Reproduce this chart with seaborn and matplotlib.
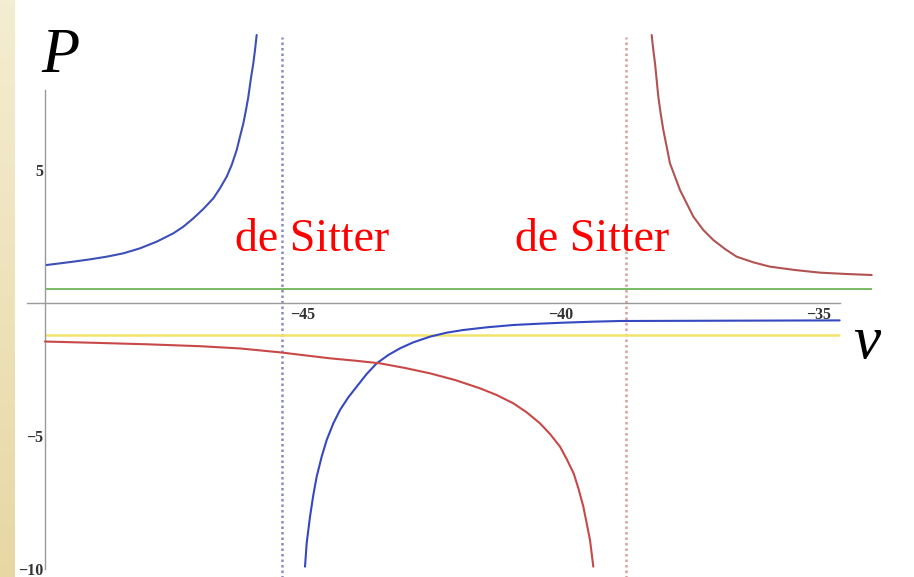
import numpy as np
import matplotlib
matplotlib.use("Agg")
import matplotlib.pyplot as plt
import seaborn as sns

# ---- curve samples (nu, P) ----
blue_upper_nu = [-49.968, -49.709, -49.451, -49.128, -48.805, -48.482, -48.159, -47.836,
                 -47.513, -47.319, -47.125, -46.932, -46.738, -46.609, -46.479, -46.382,
                 -46.285, -46.221, -46.156, -46.105, -46.059, -46.014, -45.963, -45.930,
                 -45.898]
blue_upper_p = [1.417, 1.480, 1.543, 1.630, 1.730, 1.856, 2.044, 2.294,
                2.608, 2.858, 3.172, 3.523, 3.924, 4.300, 4.738, 5.177,
                5.741, 6.242, 6.743, 7.244, 7.746, 8.372, 8.999, 9.500,
                10.064]

blue_lower_nu = [-44.961, -44.929, -44.864, -44.800, -44.735, -44.638, -44.541, -44.412,
                 -44.283, -44.122, -43.960, -43.766, -43.572, -43.346, -43.120, -42.862,
                 -42.539, -42.216, -41.893, -41.441, -40.924, -40.407, -39.955, -39.374,
                 -38.857, -36.5, -34.6]
blue_lower_p = [-9.924, -9.046, -8.044, -7.229, -6.540, -5.788, -5.162, -4.535,
                -4.034, -3.558, -3.157, -2.680, -2.279, -1.966, -1.715, -1.490,
                -1.277, -1.127, -1.026, -0.926, -0.838, -0.788, -0.751, -0.713,
                -0.688, -0.675, -0.665]

red_lower_nu = [-50.0, -49.0, -48.0, -47.0, -46.22, -45.446, -44.961, -44.477,
                -43.992, -43.508, -43.023, -42.539, -42.054, -41.570, -41.247, -40.924,
                -40.665, -40.407, -40.213, -40.019, -39.890, -39.755, -39.663, -39.567,
                -39.502, -39.438, -39.374]
red_lower_p = [-1.46, -1.51, -1.565, -1.635, -1.72, -1.866, -1.979, -2.091,
               -2.179, -2.279, -2.455, -2.655, -2.906, -3.219, -3.470, -3.783,
               -4.121, -4.535, -4.936, -5.412, -5.876, -6.415, -6.979, -7.668,
               -8.294, -8.921, -9.924]

red_upper_nu = [-38.243, -38.211, -38.178, -38.146, -38.114, -38.069, -38.017, -37.952,
                -37.888, -37.791, -37.694, -37.565, -37.435, -37.242, -37.048, -36.822,
                -36.596, -36.273, -35.950, -35.465, -34.981, -34.464, -33.979]
red_upper_p = [10.064, 9.500, 8.999, 8.372, 7.746, 7.119, 6.492, 5.866,
               5.239, 4.738, 4.237, 3.736, 3.234, 2.733, 2.357, 2.019,
               1.730, 1.518, 1.355, 1.229, 1.129, 1.079, 1.041]

# constant levels and their extents
green_level, green_span = 0.50, (-50.0, -33.98)
yellow_level, yellow_span = -1.20, (-50.0, -34.6)

# de Sitter points
desitter_nu = [-45.41, -38.74]
desitter_label = "de Sitter"
desitter_text_nu = [-46.32, -40.89]
desitter_text_p = 1.93

# axes ticks
y_major = [-10, -5, 5]
y_major_labels = ["\u221210", "\u22125", "5"]
y_minor = [v for v in range(-10, 9) if v not in (-10, -5, 0, 5)]
x_major = [-45, -40, -35]
x_major_labels = ["\u221245", "\u221240", "\u221235"]
x_minor = [v for v in range(-50, -34) if v not in (-45, -40, -35)]

sns.set_theme(style="white")
plt.rcParams['font.family'] = ['Liberation Serif', 'DejaVu Serif']

W, H = 914, 577
fig = plt.figure(figsize=(W / 100, H / 100), dpi=100, facecolor="white")

# parchment strip on the left edge
strip = fig.add_axes([0, 0, 15 / W, 1], zorder=0)
grad = np.linspace(0, 1, 256).reshape(-1, 1)
top_c = np.array([0.960, 0.930, 0.820])
bot_c = np.array([0.905, 0.845, 0.640])
img = top_c[None, None, :] * (1 - grad[..., None]) + bot_c[None, None, :] * grad[..., None]
strip.imshow(img, aspect="auto", extent=[0, 1, 0, 1])
strip.set_axis_off()

ax = fig.add_axes([0, 0, 1, 1], zorder=1)
ax.set_facecolor("none")

# pixel mapping: nu=-45 at x=303, 51.6 px per unit; P=0 at y=302.7, 26.6 px per unit
x_px0, x_scale = 303.0, 51.6
y_px0, y_scale = 302.7, 26.6
ax.set_xlim(-45 + (0 - x_px0) / x_scale, -45 + (W - x_px0) / x_scale)
ax.set_ylim((y_px0 - H) / y_scale, y_px0 / y_scale)

axis_gray = "#9a9a9a"

# dotted de Sitter markers
ax.vlines(desitter_nu[0], -10.4, 10.0, colors="#8a8ac8", linestyles=(0, (1, 1.2)), linewidth=1.8, zorder=2)
ax.vlines(desitter_nu[1], -10.4, 10.0, colors="#d8a0a0", linestyles=(0, (1, 1.2)), linewidth=1.8, zorder=2)

# constant levels
ax.hlines(green_level, *green_span, colors="#78bc62", linewidth=1.4, zorder=3)
ax.hlines(yellow_level, *yellow_span, colors="#f2e46a", linewidth=1.8, zorder=3)

lw = 1.5
sns.lineplot(x=blue_upper_nu, y=blue_upper_p, ax=ax, color="#3d4fb8", linewidth=lw,
             sort=False, estimator=None, zorder=4)
sns.lineplot(x=blue_lower_nu, y=blue_lower_p, ax=ax, color="#3548c0", linewidth=lw,
             sort=False, estimator=None, zorder=4)
sns.lineplot(x=red_lower_nu, y=red_lower_p, ax=ax, color="#c84848", linewidth=lw,
             sort=False, estimator=None, zorder=4)
sns.lineplot(x=red_upper_nu, y=red_upper_p, ax=ax, color="#b25252", linewidth=lw,
             sort=False, estimator=None, zorder=4)

# axes crossing at nu=-50, P=0
for s in ("top", "right"):
    ax.spines[s].set_visible(False)
ax.spines["left"].set_position(("data", -50.0))
ax.spines["bottom"].set_position(("data", 0.0))
ax.spines["left"].set_bounds(-10.0, 8.0)
ax.spines["bottom"].set_bounds(-50.35, -34.6)
for s in ("left", "bottom"):
    ax.spines[s].set_color(axis_gray)
    ax.spines[s].set_linewidth(1.0)
    ax.spines[s].set_zorder(3)

ax.set_yticks(y_major)
ax.set_yticklabels(y_major_labels)
ax.set_yticks(y_minor, minor=True)
ax.set_xticks(x_major)
ax.set_xticklabels(x_major_labels)
ax.set_xticks(x_minor, minor=True)
ax.tick_params(which="both", direction="in", color=axis_gray, width=0.8)
ax.tick_params(which="major", length=4.5, labelsize=11.5, labelcolor="#333333", pad=1.5)
ax.tick_params(which="minor", length=2.5)
ax.tick_params(axis="x", which="major", pad=3)
for lab in ax.get_xticklabels() + ax.get_yticklabels():
    lab.set_fontweight("bold")
ax.set_xlabel("")
ax.set_ylabel("")

# axis symbols
ax.text(-45 + (60 - x_px0) / x_scale, (y_px0 - 72) / y_scale, "P", fontsize=45,
        fontstyle="italic", ha="center", va="baseline", color="black")
ax.text(-45 + (867 - x_px0) / x_scale, (y_px0 - 358) / y_scale, "\u03bd", fontsize=44,
        fontstyle="italic", ha="center", va="baseline", color="black")

for xn in desitter_text_nu:
    ax.text(xn, desitter_text_p, desitter_label, fontsize=33, color="#ff0000",
            ha="left", va="baseline", zorder=5)

fig.savefig("out.png", dpi=100, facecolor="white")
